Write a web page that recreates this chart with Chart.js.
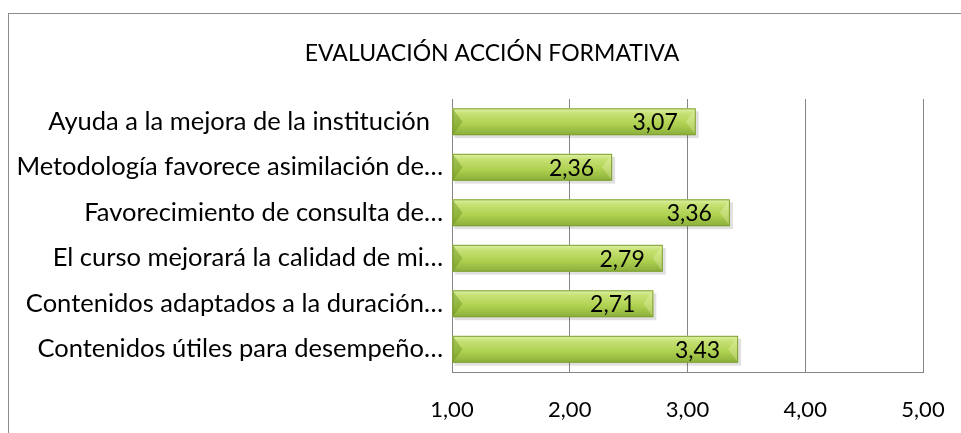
<!DOCTYPE html>
<html>
<head>
<meta charset="utf-8">
<script src="https://cdn.jsdelivr.net/npm/chart.js@4.4.1/dist/chart.umd.min.js"></script>
<style>
  html, body { margin: 0; padding: 0; background: #fff; overflow: hidden; }
  #wrap { position: relative; width: 961px; height: 433px; }
  #frame { position: absolute; left: 8px; top: 13px; width: 1000px; height: 500px;
           border-left: 1px solid #8c8c8c; border-top: 1px solid #8c8c8c; pointer-events: none; }
</style>
</head>
<body>
<div id="wrap">
  <canvas id="chart" width="961" height="433"></canvas>
  <div id="frame"></div>
</div>
<script>
// Categories (top to bottom)
const categories = [
  "Ayuda a la mejora de la institución  ",
  "Metodología favorece asimilación de…",
  "Favorecimiento de consulta de…",
  "El curso mejorará la calidad de mi…",
  "Contenidos adaptados a la duración…",
  "Contenidos útiles para desempeño…",
];
// Average score per item
const scores = [3.07, 2.36, 3.36, 2.79, 2.71, 3.43];
// Axis ticks
const tickValues = [1, 2, 3, 4, 5];

const FONT = "Lato, 'Open Sans', sans-serif";
const fmt = (v) => v.toFixed(2).replace(".", ",");

// Draw the green bevelled bars and their values
const barPainter = {
  id: "barPainter",
  afterDatasetsDraw(chart) {
    const ctx = chart.ctx;
    const meta = chart.getDatasetMeta(0);
    meta.data.forEach((bar, i) => {
      const left = Math.min(bar.x, bar.base);
      const right = Math.max(bar.x, bar.base);
      const top = bar.y - bar.height / 2;
      const h = bar.height;
      const w = right - left;
      ctx.save();
      // shadow
      ctx.fillStyle = "rgba(0,0,0,0.12)";
      ctx.fillRect(left + 2, top + 3, w + 1, h);
      // body
      const g = ctx.createLinearGradient(0, top, 0, top + h);
      g.addColorStop(0, "#e0f2aa");
      g.addColorStop(0.18, "#c8e276");
      g.addColorStop(0.6, "#add04f");
      g.addColorStop(1, "#8aae3a");
      ctx.fillStyle = g;
      ctx.fillRect(left, top, w, h);
      // bevels at the ends
      const b = 10;
      ctx.fillStyle = "rgba(90,130,20,0.35)";
      ctx.beginPath();
      ctx.moveTo(left, top);
      ctx.lineTo(left + b, top + h / 2);
      ctx.lineTo(left, top + h);
      ctx.closePath();
      ctx.fill();
      ctx.fillStyle = "rgba(255,255,220,0.25)";
      ctx.beginPath();
      ctx.moveTo(right, top);
      ctx.lineTo(right - b, top + h / 2);
      ctx.lineTo(right, top + h);
      ctx.closePath();
      ctx.fill();
      ctx.strokeStyle = "#7f9f33";
      ctx.lineWidth = 1;
      ctx.strokeRect(left + 0.5, top + 0.5, w - 1, h - 1);
      // value label
      ctx.fillStyle = "#000";
      ctx.font = "23px " + FONT;
      ctx.textAlign = "right";
      ctx.textBaseline = "middle";
      ctx.fillText(fmt(scores[i]), right - 18, bar.y + 1);
      ctx.restore();
    });
  },
};

new Chart(document.getElementById("chart"), {
  type: "bar",
  plugins: [barPainter],
  data: {
    labels: categories,
    datasets: [
      {
        data: scores,
        base: 1,
        backgroundColor: "rgba(0,0,0,0)",
        barPercentage: 0.59,
        categoryPercentage: 1,
      },
    ],
  },
  options: {
    indexAxis: "y",
    responsive: false,
    animation: false,
    // left padding only to centre the title like the original; labels run into it
    layout: { padding: { top: 11, right: 38, bottom: 0, left: 61 } },
    plugins: {
      legend: { display: false },
      tooltip: { enabled: false },
      title: {
        display: true,
        text: "EVALUACIÓN ACCIÓN FORMATIVA",
        color: "#000",
        font: { family: FONT, size: 23, weight: "normal" },
        padding: { top: 29, bottom: 31.4 },
      },
    },
    scales: {
      x: {
        min: 1,
        max: 5,
        afterBuildTicks: (axis) => { axis.ticks = tickValues.map((v) => ({ value: v })); },
        ticks: { color: "#000", font: { family: FONT, size: 22 }, padding: 0, callback: (v) => fmt(v) },
        grid: { color: "#868686", drawTicks: true, tickLength: 25, tickColor: "rgba(0,0,0,0)" },
        border: { color: "#868686" },
        afterFit: (axis) => { axis.height = 61; },
      },
      y: {
        ticks: { color: "#000", font: { family: FONT, size: 25.5 }, padding: 9 },
        grid: { display: false, drawTicks: false },
        border: { color: "#868686" },
        afterFit: (axis) => { axis.width = 391; },
        // don't clip the long labels to the axis box
        afterUpdate: (axis) => { axis._computeLabelArea = () => undefined; },
      },
    },
  },
});
</script>
</body>
</html>
